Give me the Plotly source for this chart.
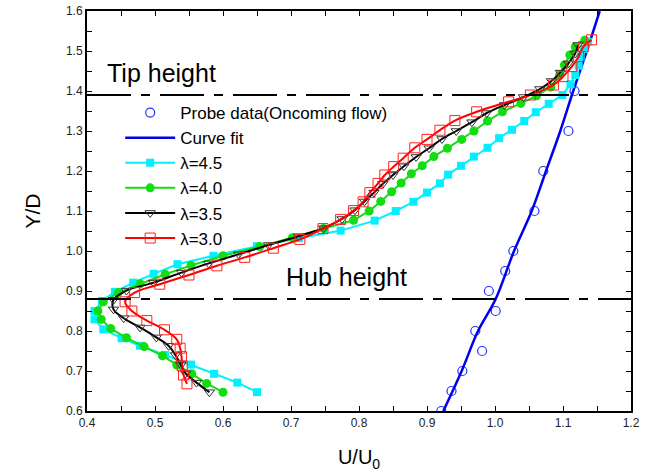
import plotly.graph_objects as go

# ---------------- data ----------------
probe_u = [0.921, 0.936, 0.952, 0.981, 0.971, 1.001, 0.991, 1.015, 1.027, 1.058, 1.071, 1.108, 1.117]
probe_y = [0.60, 0.65, 0.70, 0.75, 0.80, 0.85, 0.90, 0.95, 1.00, 1.10, 1.20, 1.30, 1.40]

fit_u = [0.924, 0.951, 0.975, 1.001, 1.028, 1.054, 1.075, 1.096, 1.115, 1.135, 1.154]
fit_y = [0.60, 0.70, 0.80, 0.88, 1.00, 1.10, 1.20, 1.30, 1.40, 1.50, 1.60]

l45_u = [0.650, 0.621, 0.587, 0.553, 0.515, 0.478, 0.451, 0.424, 0.411, 0.411,
         0.422, 0.441, 0.468, 0.498, 0.533, 0.586, 0.650, 0.712, 0.773, 0.823,
         0.854, 0.880, 0.900, 0.919, 0.931, 0.950, 0.969, 0.989, 1.006, 1.025,
         1.043, 1.060, 1.079, 1.099, 1.111, 1.118, 1.123, 1.126, 1.131, 1.137]
l45_y = [0.647, 0.671, 0.693, 0.716, 0.740, 0.763, 0.782, 0.804, 0.829, 0.850,
         0.875, 0.898, 0.921, 0.943, 0.967, 0.988, 1.012, 1.032, 1.051, 1.076,
         1.100, 1.123, 1.146, 1.169, 1.191, 1.213, 1.236, 1.258, 1.282, 1.303,
         1.325, 1.347, 1.368, 1.390, 1.417, 1.440, 1.463, 1.486, 1.505, 1.523]

l40_u = [0.600, 0.576, 0.554, 0.532, 0.511, 0.484, 0.458, 0.435, 0.421, 0.416,
         0.424, 0.446, 0.478, 0.515, 0.553, 0.600, 0.654, 0.702, 0.748, 0.792,
         0.815, 0.832, 0.848, 0.862, 0.877, 0.893, 0.910, 0.930, 0.951, 0.969,
         0.989, 1.011, 1.038, 1.061, 1.082, 1.095, 1.102, 1.110, 1.118, 1.132]
l40_y = [0.647, 0.669, 0.693, 0.715, 0.738, 0.761, 0.783, 0.806, 0.829, 0.850,
         0.873, 0.896, 0.918, 0.942, 0.964, 0.988, 1.011, 1.033, 1.056, 1.077,
         1.100, 1.124, 1.148, 1.170, 1.193, 1.213, 1.236, 1.257, 1.279, 1.300,
         1.325, 1.348, 1.369, 1.388, 1.410, 1.440, 1.465, 1.490, 1.510, 1.527]

l35_u = [0.580, 0.561, 0.545, 0.538, 0.530, 0.520, 0.502, 0.478, 0.454, 0.439,
         0.439, 0.458, 0.498, 0.539, 0.579, 0.623, 0.667, 0.711, 0.748, 0.775,
         0.794, 0.808, 0.822, 0.835, 0.850, 0.866, 0.884, 0.903, 0.922, 0.943,
         0.966, 0.988, 1.014, 1.042, 1.066, 1.083, 1.096, 1.108, 1.118, 1.122]
l35_y = [0.647, 0.671, 0.694, 0.715, 0.740, 0.763, 0.784, 0.809, 0.832, 0.854,
         0.878, 0.901, 0.921, 0.946, 0.969, 0.992, 1.015, 1.037, 1.057, 1.080,
         1.102, 1.124, 1.146, 1.168, 1.190, 1.212, 1.235, 1.257, 1.280, 1.300,
         1.322, 1.345, 1.365, 1.385, 1.405, 1.425, 1.446, 1.469, 1.494, 1.515]

l30_u = [0.547, 0.542, 0.540, 0.539, 0.537, 0.532, 0.514, 0.488, 0.466, 0.456,
         0.470, 0.507, 0.550, 0.591, 0.632, 0.674, 0.713, 0.747, 0.773, 0.792,
         0.806, 0.816, 0.828, 0.838, 0.851, 0.865, 0.882, 0.900, 0.919, 0.941,
         0.973, 1.020, 1.052, 1.086, 1.100, 1.113, 1.123, 1.130, 1.142]
l30_y = [0.668, 0.690, 0.713, 0.736, 0.757, 0.779, 0.803, 0.826, 0.850, 0.873,
         0.896, 0.917, 0.940, 0.963, 0.984, 1.007, 1.029, 1.056, 1.079, 1.101,
         1.123, 1.146, 1.169, 1.190, 1.211, 1.232, 1.258, 1.279, 1.302, 1.326,
         1.348, 1.373, 1.390, 1.415, 1.436, 1.461, 1.486, 1.511, 1.528]

TIP_HEIGHT = 1.39
HUB_HEIGHT = 0.88
X_RANGE = [0.4, 1.2]
Y_RANGE = [0.6, 1.6]

FONT = "Liberation Sans, Arial, sans-serif"

fig = go.Figure()

fig.add_trace(go.Scatter(
    x=probe_u, y=probe_y, mode="markers", name="Probe data(Oncoming flow)",
    marker=dict(symbol="circle-open", size=9, color="#2233ff", line=dict(width=1.2)),
    legendrank=1))
fig.add_trace(go.Scatter(
    x=fit_u, y=fit_y, mode="lines", name="Curve fit", line_shape="spline",
    line=dict(color="#0000ee", width=2.5), legendrank=2))
fig.add_trace(go.Scatter(
    x=l45_u, y=l45_y, mode="lines+markers", name="λ=4.5",
    line=dict(color="#00f0ff", width=2),
    marker=dict(symbol="square", size=8, color="#00f0ff"), legendrank=3))
fig.add_trace(go.Scatter(
    x=l40_u, y=l40_y, mode="lines+markers", name="λ=4.0",
    line=dict(color="#11dd11", width=2),
    marker=dict(symbol="circle", size=9, color="#11dd11"), legendrank=4))
fig.add_trace(go.Scatter(
    x=l35_u, y=l35_y, mode="lines+markers", name="λ=3.5", line_shape="spline",
    line=dict(color="#000000", width=2),
    marker=dict(symbol="triangle-down-open", size=9, color="#333333", line=dict(width=1)),
    legendrank=5))
fig.add_trace(go.Scatter(
    x=l30_u, y=l30_y, mode="lines+markers", name="λ=3.0", line_shape="spline",
    line=dict(color="#ff0000", width=2),
    marker=dict(symbol="square-open", size=10, color="#ff2222", line=dict(width=1)),
    legendrank=6))

for yv in (TIP_HEIGHT, HUB_HEIGHT):
    fig.add_shape(type="line", xref="x", yref="y", x0=X_RANGE[0], x1=X_RANGE[1],
                  y0=yv, y1=yv, line=dict(color="black", width=2.2, dash="44px,10px,9px,10px"))

fig.add_annotation(x=0.426, y=1.445, xref="x", yref="y", text="Tip height", showarrow=False,
                   xanchor="left", yanchor="middle", font=dict(size=25, color="black", family=FONT))
fig.add_annotation(x=0.69, y=0.935, xref="x", yref="y", text="Hub height", showarrow=False,
                   xanchor="left", yanchor="middle", font=dict(size=25, color="black", family=FONT))

axis_common = dict(
    showgrid=False, zeroline=False, showline=True, linecolor="black", linewidth=2,
    mirror="allticks", ticks="inside", ticklen=5, tickwidth=1, tickcolor="black",
    tickformat=".1f", dtick=0.1, automargin=False, ticklabeloverflow="allow",
    tickfont=dict(size=12, color="#222222", family=FONT),
    minor=dict(dtick=0.05, ticks="inside", ticklen=5, tickwidth=1, tickcolor="black"),
)

fig.update_xaxes(range=X_RANGE, tick0=0.4,
                 title=dict(text="U/U<sub>0</sub>", font=dict(size=20, color="black", family=FONT), standoff=21),
                 **axis_common)
fig.update_yaxes(range=Y_RANGE, tick0=0.6,
                 title=dict(text="Y/D", font=dict(size=21, color="black", family=FONT), standoff=20),
                 **axis_common)

fig.update_layout(
    width=650, height=476,
    margin=dict(l=87, r=19, t=11, b=65, autoexpand=False),
    paper_bgcolor="white", plot_bgcolor="white",
    font=dict(family=FONT, color="black"),
    legend=dict(x=0.061, y=0.79, xanchor="left", yanchor="top",
                bgcolor="rgba(0,0,0,0)", borderwidth=0,
                font=dict(size=17, color="black", family=FONT),
                itemwidth=50, tracegroupgap=0),
    showlegend=True,
)

# remove the browser's default 8px body margin so the figure sits at the page origin
fig.write_html("out.html", config={"displayModeBar": False},
               post_script="document.body.style.margin='0';")
